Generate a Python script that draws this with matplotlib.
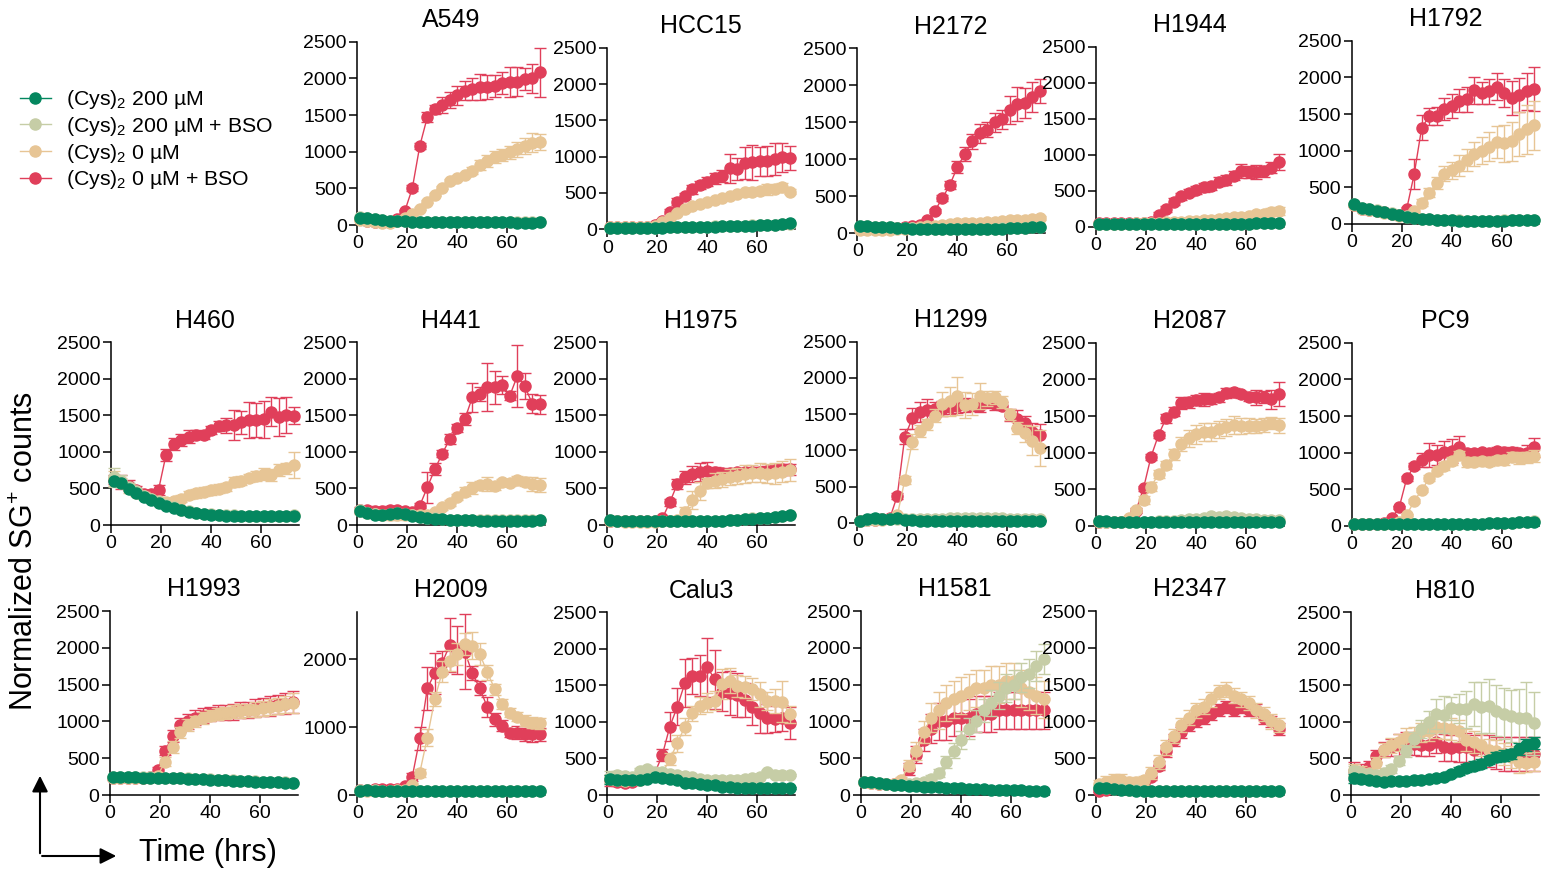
import matplotlib
matplotlib.use("Agg")
import matplotlib.pyplot as plt
from matplotlib.lines import Line2D
from matplotlib.patches import FancyArrowPatch

plt.rcParams['font.family'] = ['Liberation Sans', 'DejaVu Sans']
plt.rcParams['mathtext.fontset'] = 'custom'
plt.rcParams['mathtext.rm'] = 'Liberation Sans'
plt.rcParams['mathtext.it'] = 'Liberation Sans:italic'
plt.rcParams['mathtext.bf'] = 'Liberation Sans:bold'

# ---------------- data ----------------
TIME = [1, 4, 7, 10, 13, 16, 19, 22, 25, 28, 31, 34, 37, 40, 43, 46, 49, 52, 55, 58, 61, 64, 67, 70, 73]
LABELS = ['(Cys)$_{\\mathregular{2}}$ 200 µM', '(Cys)$_{\\mathregular{2}}$ 200 µM + BSO',
          '(Cys)$_{\\mathregular{2}}$ 0 µM', '(Cys)$_{\\mathregular{2}}$ 0 µM + BSO']
X_TICKS = [0, 20, 40, 60]

A549_green = [100,92,80,68,60,52,48,45,43,42,40,40,38,38,37,36,36,35,35,35,35,34,34,34,35]
A549_sage = [105,95,82,70,60,55,50,47,45,43,42,41,40,40,39,38,38,37,37,37,37,36,36,36,36]
A549_tan = [70,60,40,30,30,50,100,150,220,320,410,510,600,640,680,740,820,870,930,950,990,1030,1080,1120,1130]
A549_red = [80,60,45,40,40,80,190,500,1080,1470,1580,1640,1710,1770,1830,1850,1880,1880,1895,1930,1950,1955,1985,2000,2080]
A549_tan_err = [10,10,10,10,10,10,15,15,20,20,20,25,25,30,30,50,70,80,80,80,90,100,110,130,110]
A549_red_err = [10,10,10,10,10,15,20,40,40,70,60,110,110,130,130,150,180,160,150,150,200,200,150,200,330]

HCC15_green = [20,20,20,20,20,20,22,24,26,28,30,32,34,35,37,40,42,45,48,52,55,58,62,75,80]
HCC15_sage = [22,22,22,22,22,22,24,26,28,30,32,34,36,37,39,42,44,47,50,54,57,60,64,72,78]
HCC15_tan = [25,25,25,25,25,30,45,100,160,230,280,320,350,380,400,430,460,490,510,520,530,550,560,580,520]
HCC15_red = [25,25,25,25,25,30,60,120,245,380,460,550,610,655,700,735,840,825,910,920,935,940,965,990,980]
HCC15_tan_err = [5,5,5,5,5,5,10,15,20,20,20,20,20,20,20,20,25,25,30,40,50,80,50,60,30]
HCC15_red_err = [5,5,5,5,5,5,10,20,30,50,40,60,60,60,70,80,200,150,220,240,200,200,220,200,170]

H2172_green = [100,90,85,80,75,70,65,60,58,56,55,55,55,55,55,55,55,56,58,60,62,65,70,75,85]
H2172_sage = [100,92,86,80,76,72,68,64,60,58,57,57,57,57,57,57,57,58,60,62,64,67,72,77,86]
H2172_tan = [40,40,40,40,45,50,60,70,80,90,100,110,120,130,130,140,140,150,150,160,170,180,180,190,200]
H2172_red = [60,60,60,60,65,70,75,90,110,170,300,470,650,890,1070,1240,1350,1400,1500,1540,1660,1740,1760,1840,1920]
H2172_tan_err = [10,10,10,10,10,10,10,10,10,10,15,15,15,15,15,15,15,20,20,20,20,20,20,20,25]
H2172_red_err = [10,10,10,10,10,10,10,15,20,25,30,40,60,80,100,100,130,100,130,130,190,230,200,200,160]

H1944_green = [40,40,38,37,37,36,36,36,35,35,35,35,35,35,35,35,36,37,38,40,42,45,48,50,55]
H1944_sage = [42,42,40,39,39,38,38,38,37,37,37,37,37,37,37,37,38,39,40,42,44,47,50,52,57]
H1944_tan = [40,40,40,40,40,45,45,50,55,60,65,70,75,85,95,100,110,120,130,140,150,170,180,200,220]
H1944_red = [45,45,45,45,45,45,50,60,160,250,350,420,470,510,545,565,625,650,710,770,760,760,770,820,900]
H1944_tan_err = [5,5,5,5,5,5,5,10,10,10,10,15,15,20,20,25,30,30,35,40,40,50,50,55,60]
H1944_red_err = [5,5,5,5,5,5,10,15,40,40,50,50,50,60,60,60,60,70,60,100,90,100,80,80,110]

H1792_green = [270,215,200,180,165,140,120,100,80,72,64,56,50,48,46,45,45,45,45,45,46,48,50,52,55]
H1792_sage = [275,220,205,185,168,145,124,104,84,75,67,59,53,50,48,47,47,47,47,47,48,50,52,54,57]
H1792_tan = [260,210,190,175,155,135,115,100,180,290,427,563,686,732,795,873,955,1000,1055,1123,1100,1127,1223,1291,1345]
H1792_red = [260,210,190,175,160,140,120,205,680,1314,1468,1473,1573,1609,1682,1700,1823,1782,1809,1873,1782,1714,1764,1809,1845]
H1792_tan_err = [10,10,10,10,10,10,10,15,30,50,60,80,100,120,140,150,170,180,200,220,250,270,300,330,330]
H1792_red_err = [10,10,10,10,10,10,15,30,200,170,120,120,150,160,160,170,180,150,170,180,190,230,230,250,300]

H460_green = [600,570,490,435,380,340,300,260,228,200,182,160,146,137,132,128,124,120,118,117,117,118,120,122,128]
H460_sage = [650,600,520,460,400,360,320,280,240,210,190,170,155,145,140,135,130,127,125,124,124,125,126,128,132]
H460_tan = [640,580,500,440,400,360,330,320,333,360,410,433,456,474,497,520,593,607,643,670,698,680,753,775,821]
H460_red = [620,590,540,480,430,420,480,958,1104,1163,1209,1236,1232,1300,1355,1364,1369,1405,1437,1437,1446,1551,1483,1505,1496]
H460_sage_err = [130,80,60,50,40,30,30,20,20,20,20,15,15,15,15,15,15,15,15,15,15,15,15,15,15]
H460_tan_err = [100,60,60,50,50,40,40,40,40,50,60,60,60,60,60,60,70,60,60,70,80,80,80,80,180]
H460_red_err = [60,100,80,60,50,40,70,80,80,80,90,60,60,60,70,100,200,160,250,230,250,200,260,250,120]

H441_green = [196,160,140,137,150,158,145,128,110,96,87,78,70,66,63,62,60,60,60,60,60,60,60,60,62]
H441_sage = [200,165,145,140,155,160,148,130,112,98,89,80,72,68,65,64,62,62,62,62,62,62,62,62,64]
H441_tan = [190,170,150,140,130,130,130,130,130,140,182,242,306,388,456,502,547,561,534,584,579,616,593,561,547]
H441_red = [200,200,190,190,200,200,190,180,265,515,762,976,1177,1328,1446,1747,1793,1884,1884,1916,1770,2039,1902,1656,1651]
H441_tan_err = [40,40,40,60,60,60,40,30,20,20,20,30,40,40,60,80,60,100,50,50,40,50,60,90,100]
H441_red_err = [40,60,40,40,60,40,30,30,30,215,80,50,70,60,80,200,100,330,230,120,60,420,180,130,130]

H1975_green = [65,55,50,50,50,50,50,50,50,50,50,50,52,54,56,58,65,72,80,88,95,100,110,120,135]
H1975_sage = [68,58,52,52,52,52,52,52,52,52,52,52,54,56,58,60,67,74,82,90,97,102,112,122,137]
H1975_tan = [50,50,45,45,45,45,45,50,60,70,182,342,465,570,607,625,661,675,698,707,716,698,707,730,753]
H1975_red = [50,50,50,50,50,50,55,90,310,561,652,698,725,744,730,716,707,720,720,730,730,740,750,760,760]
H1975_tan_err = [10,10,10,10,10,10,10,10,10,15,70,120,120,70,100,100,110,110,120,120,130,130,140,140,150]
H1975_red_err = [10,10,10,10,10,10,10,20,50,70,90,110,120,120,60,60,60,60,60,60,70,70,70,80,80]

H1299_green = [30,45,65,50,55,60,40,35,30,30,30,30,30,30,30,30,30,30,30,30,30,30,30,30,30]
H1299_sage = [30,40,50,50,50,55,50,45,45,45,50,55,60,60,65,65,65,65,60,60,55,50,50,45,45]
H1299_tan = [30,35,40,40,45,100,590,1119,1266,1358,1478,1639,1680,1750,1625,1639,1754,1717,1735,1671,1496,1312,1234,1133,1027]
H1299_red = [30,35,40,45,60,373,1188,1441,1533,1556,1565,1575,1600,1611,1625,1625,1611,1671,1639,1611,1487,1432,1372,1257,1211]
H1299_green_err = [15,20,60,30,50,30,15,10,5,5,5,5,5,5,5,5,5,5,5,5,5,5,5,5,5]
H1299_tan_err = [10,10,10,10,15,30,60,100,80,80,90,170,200,260,180,150,180,100,90,80,80,80,120,200,250]
H1299_red_err = [10,10,10,10,15,40,100,150,140,150,100,100,100,100,100,80,80,80,80,60,80,120,100,120,150]

H2087_green = [70,65,60,60,60,60,60,60,60,60,60,60,60,60,60,60,60,60,60,60,60,60,60,60,60]
H2087_sage = [65,60,55,55,55,60,60,60,65,70,75,80,90,100,110,130,120,130,120,110,100,90,85,80,80]
H2087_tan = [50,50,50,50,110,218,355,536,709,832,977,1118,1195,1250,1286,1286,1318,1345,1377,1364,1368,1364,1377,1400,1373]
H2087_red = [50,50,50,50,100,209,514,945,1241,1468,1559,1673,1686,1718,1727,1732,1755,1809,1823,1795,1764,1755,1764,1727,1800]
H2087_tan_err = [10,10,10,10,15,30,50,60,60,60,80,100,120,130,120,120,120,120,120,110,100,90,90,80,100]
H2087_red_err = [10,10,10,10,15,30,30,40,40,60,60,80,80,70,90,70,60,70,60,50,60,100,80,130,160]

PC9_green = [25,25,25,25,25,25,30,30,30,30,30,30,30,30,30,30,30,32,35,38,40,45,50,55,60]
PC9_sage = [27,27,27,27,27,27,32,32,32,32,32,32,32,32,32,32,32,34,37,40,42,47,52,57,62]
PC9_tan = [30,30,30,30,30,30,60,150,341,491,650,750,818,886,968,868,877,886,877,900,900,945,923,936,955]
PC9_red = [30,30,30,30,40,105,255,650,818,900,968,968,1014,1023,1073,990,990,1014,1000,1023,1005,1014,990,1000,1073]
PC9_tan_err = [5,5,5,5,5,5,10,20,30,30,40,40,50,60,60,60,60,60,60,60,70,70,80,80,80]
PC9_red_err = [5,5,5,5,5,10,20,30,40,100,160,140,150,170,150,40,40,40,50,60,50,60,60,100,130]

H1993_green = [245,240,240,238,236,235,232,230,228,225,222,218,214,210,205,200,195,190,185,180,176,172,170,168,165]
H1993_sage = [250,245,245,243,240,238,236,234,232,229,226,222,218,214,209,204,199,194,189,184,180,176,174,172,169]
H1993_tan = [230,230,230,230,230,235,260,450,650,850,950,1000,1050,1080,1100,1110,1130,1140,1150,1160,1180,1200,1210,1230,1250]
H1993_red = [230,230,230,230,230,240,340,600,800,950,1000,1050,1080,1100,1120,1120,1130,1150,1160,1180,1200,1210,1230,1240,1260]
H1993_tan_err = [20,20,20,20,20,20,30,60,80,80,80,80,80,80,80,80,90,90,90,100,100,110,110,120,130]
H1993_red_err = [20,20,20,20,20,30,40,60,80,100,100,100,100,100,100,100,110,110,110,120,120,130,130,140,150]

H2009_green = [65,70,65,62,62,60,60,60,60,60,58,58,58,57,57,56,56,56,56,57,57,58,58,58,60]
H2009_sage = [68,72,67,64,64,62,62,62,62,62,60,60,60,59,59,58,58,58,58,59,59,60,60,60,62]
H2009_tan = [60,65,65,65,65,70,80,150,329,845,1415,1818,1980,2079,2226,2197,2074,1808,1558,1341,1214,1155,1096,1066,1056]
H2009_red = [70,80,85,85,85,90,133,270,835,1572,1794,1951,2211,2138,2113,1794,1572,1292,1115,1022,919,919,894,894,894]
H2009_tan_err = [10,10,10,10,10,10,15,30,60,120,100,160,150,160,160,200,160,110,80,80,70,70,80,80,80]
H2009_red_err = [10,10,10,10,10,15,30,60,170,320,300,170,400,350,550,100,100,150,100,80,60,100,100,120,100]

Calu3_green = [214,210,205,200,200,220,240,230,220,200,170,160,150,140,130,110,105,100,95,90,90,90,90,95,100]
Calu3_sage = [250,270,260,250,333,360,320,310,290,280,260,240,220,210,210,200,200,210,220,230,250,319,280,270,274]
Calu3_tan = [220,200,190,200,210,230,270,300,488,707,935,1118,1223,1264,1291,1519,1565,1492,1474,1446,1378,1287,1287,1278,1104]
Calu3_red = [200,180,170,180,220,250,300,547,935,1209,1528,1629,1633,1747,1583,1414,1400,1369,1300,1209,1127,1049,1036,1049,981]
Calu3_green_err = [60,50,40,40,40,40,40,40,30,30,30,20,20,20,20,20,20,15,15,15,15,15,15,15,15]
Calu3_sage_err = [80,60,40,40,40,40,40,30,30,30,20,20,20,20,20,20,20,20,20,20,20,20,20,20,20]
Calu3_tan_err = [60,60,40,40,40,40,50,60,80,120,120,100,120,130,130,200,170,150,150,150,170,120,170,280,120]
Calu3_red_err = [80,60,40,40,40,50,60,80,200,250,330,250,280,400,400,270,300,300,230,250,280,200,180,180,220]

H1581_green = [180,170,160,150,140,130,125,120,115,110,105,100,95,90,85,80,75,72,70,68,65,62,60,60,60]
H1581_sage = [180,170,160,150,140,140,150,160,180,220,300,450,600,750,900,1000,1150,1250,1350,1450,1500,1600,1650,1750,1850]
H1581_tan = [170,160,150,150,150,200,400,600,850,1050,1150,1250,1300,1350,1400,1450,1450,1500,1500,1550,1550,1450,1400,1350,1300]
H1581_red = [170,160,150,150,150,180,350,550,750,900,1000,1000,1050,1050,1050,1100,1100,1100,1150,1150,1150,1150,1150,1150,1150]
H1581_sage_err = [20,20,20,20,20,20,20,30,40,50,60,80,100,120,140,150,160,170,180,190,200,200,200,200,200]
H1581_tan_err = [20,20,20,20,20,40,80,120,150,200,250,250,250,250,250,250,250,250,250,250,250,250,250,250,250]
H1581_red_err = [20,20,20,20,20,40,80,120,150,200,250,250,250,250,250,250,250,250,250,250,250,250,250,250,250]

H2347_green = [100,90,80,70,65,60,55,55,50,50,50,50,50,50,50,50,50,50,50,50,50,50,50,50,50]
H2347_sage = [105,95,85,75,70,65,60,60,55,55,55,55,55,55,55,55,55,55,55,55,55,55,55,55,55]
H2347_tan = [150,180,200,200,180,170,200,300,450,650,800,950,1050,1150,1200,1300,1400,1430,1350,1300,1250,1150,1100,1000,950]
H2347_red = [60,70,80,90,100,110,150,250,400,600,750,850,950,1000,1050,1100,1150,1200,1150,1200,1150,1150,1050,1000,900]
H2347_tan_err = [60,80,80,80,60,60,60,80,100,100,100,100,100,100,100,100,100,100,100,100,100,100,100,100,100]
H2347_red_err = [20,20,30,30,30,30,40,50,60,80,80,80,80,80,80,80,80,80,80,80,80,80,80,80,80]

H810_green = [228,220,200,190,180,185,190,195,200,205,215,230,250,290,330,370,400,430,480,520,540,560,630,680,710]
H810_sage = [330,300,290,280,300,356,470,602,762,903,1004,1109,1100,1186,1180,1170,1241,1200,1218,1154,1110,1080,1049,1050,981]
H810_tan = [340,320,300,443,616,680,720,789,800,860,880,935,920,900,880,753,720,680,616,600,560,520,447,440,456]
H810_red = [330,320,388,534,620,650,680,707,700,680,680,730,650,640,650,650,620,640,600,580,560,560,560,560,560]
H810_green_err = [60,50,40,30,30,30,30,30,30,30,30,30,40,40,50,50,60,60,60,70,70,70,80,80,80]
H810_sage_err = [60,50,40,40,40,50,60,80,100,120,150,200,250,160,200,250,300,350,370,350,350,350,400,500,430]
H810_tan_err = [80,80,60,80,100,100,120,130,130,130,140,150,150,150,150,150,150,150,150,150,150,150,150,130,130]
H810_red_err = [120,100,80,80,100,120,150,150,150,150,150,150,180,180,200,200,200,200,220,220,230,230,230,230,230]

# ---------------- styling ----------------
GREEN = '#04875f'
SAGE = '#c6cda6'
TAN = '#e7c595'
RED = '#e03f5a'
COLORS = [GREEN, SAGE, TAN, RED]

W, H = 1556, 873
fig = plt.figure(figsize=(W / 100, H / 100), dpi=100)

# (title, left px, y of zero px, y of top px, ymax, yticks, series, errors)
Y5 = [0, 500, 1000, 1500, 2000, 2500]
PANELS = [
    ('A549', 357.3, 225.0, 41.7, 2500, Y5,
     [A549_green, A549_sage, A549_tan, A549_red], [None, None, A549_tan_err, A549_red_err]),
    ('HCC15', 607.3, 229.3, 47.7, 2500, Y5,
     [HCC15_green, HCC15_sage, HCC15_tan, HCC15_red], [None, None, HCC15_tan_err, HCC15_red_err]),
    ('H2172', 857.3, 233.0, 48.3, 2500, Y5,
     [H2172_green, H2172_sage, H2172_tan, H2172_red], [None, None, H2172_tan_err, H2172_red_err]),
    ('H1944', 1096.0, 226.7, 46.7, 2500, Y5,
     [H1944_green, H1944_sage, H1944_tan, H1944_red], [None, None, H1944_tan_err, H1944_red_err]),
    ('H1792', 1351.7, 224.0, 40.7, 2500, Y5,
     [H1792_green, H1792_sage, H1792_tan, H1792_red], [None, None, H1792_tan_err, H1792_red_err]),
    ('H460', 111.0, 525.0, 342.3, 2500, Y5,
     [H460_green, H460_sage, H460_tan, H460_red], [None, H460_sage_err, H460_tan_err, H460_red_err]),
    ('H441', 357.3, 525.0, 342.3, 2500, Y5,
     [H441_green, H441_sage, H441_tan, H441_red], [None, None, H441_tan_err, H441_red_err]),
    ('H1975', 607.3, 525.0, 342.3, 2500, Y5,
     [H1975_green, H1975_sage, H1975_tan, H1975_red], [None, None, H1975_tan_err, H1975_red_err]),
    ('H1299', 857.3, 522.7, 341.7, 2500, Y5,
     [H1299_green, H1299_sage, H1299_tan, H1299_red], [H1299_green_err, None, H1299_tan_err, H1299_red_err]),
    ('H2087', 1096.0, 526.0, 342.7, 2500, Y5,
     [H2087_green, H2087_sage, H2087_tan, H2087_red], [None, None, H2087_tan_err, H2087_red_err]),
    ('PC9', 1351.7, 526.0, 342.7, 2500, Y5,
     [PC9_green, PC9_sage, PC9_tan, PC9_red], [None, None, PC9_tan_err, PC9_red_err]),
    ('H1993', 110.0, 795.0, 611.0, 2500, Y5,
     [H1993_green, H1993_sage, H1993_tan, H1993_red], [None, None, H1993_tan_err, H1993_red_err]),
    ('H2009', 357.3, 795.0, 611.7, 2700, [0, 1000, 2000],
     [H2009_green, H2009_sage, H2009_tan, H2009_red], [None, None, H2009_tan_err, H2009_red_err]),
    ('Calu3', 607.3, 795.0, 612.3, 2500, Y5,
     [Calu3_green, Calu3_sage, Calu3_tan, Calu3_red], [Calu3_green_err, Calu3_sage_err, Calu3_tan_err, Calu3_red_err]),
    ('H1581', 861.0, 795.0, 611.0, 2500, Y5,
     [H1581_green, H1581_sage, H1581_tan, H1581_red], [None, H1581_sage_err, H1581_tan_err, H1581_red_err]),
    ('H2347', 1096.0, 795.0, 611.0, 2500, Y5,
     [H2347_green, H2347_sage, H2347_tan, H2347_red], [None, None, H2347_tan_err, H2347_red_err]),
    ('H810', 1351.0, 795.0, 612.3, 2500, Y5,
     [H810_green, H810_sage, H810_tan, H810_red], [H810_green_err, H810_sage_err, H810_tan_err, H810_red_err]),
]

AX_W_PX = 187.5  # 0..75 h
LW = 1.1

for title, left, y0, ytop, ymax, yticks, series, errs in PANELS:
    ax = fig.add_axes([left / W, (H - y0) / H, AX_W_PX / W, (y0 - ytop) / H])
    # draw red first (back) ... green last (front)
    for idx in [3, 2, 1, 0]:
        c = COLORS[idx]
        z = 10 - idx * 2
        if errs[idx] is not None:
            eb = ax.errorbar(TIME, series[idx], yerr=errs[idx], fmt='none', ecolor=c,
                             elinewidth=1.0, capsize=4.5, capthick=1.0, zorder=z - 1)
            for a in list(eb.lines[1]) + list(eb.lines[2]):
                a.set_clip_on(False)
        ax.plot(TIME, series[idx], '-', color=c, lw=1.0, marker='o', ms=8,
                mec=c, mfc=c, zorder=z, clip_on=False)
    ax.set_xlim(0, 75)
    ax.set_ylim(0, ymax)
    ax.set_xticks(X_TICKS)
    ax.set_yticks(yticks)
    for s in ['top', 'right']:
        ax.spines[s].set_visible(False)
    for s in ['left', 'bottom']:
        ax.spines[s].set_linewidth(LW)
        ax.spines[s].set_zorder(1)
    ax.tick_params(direction='out', length=5.5, width=LW, labelsize=14, pad=2)
    ax.set_title(title, fontsize=18, pad=10.5)
    ax.patch.set_visible(False)

# legend
handles = [Line2D([], [], color=c, lw=1.0, marker='o', ms=8, mec=c, mfc=c) for c in COLORS]
fig.legend(handles, LABELS, loc='upper left', bbox_to_anchor=(20 / W, 1 - 88 / H),
           frameon=False, fontsize=15.3, handlelength=1.45, handletextpad=0.7,
           labelspacing=0.18, borderpad=0, borderaxespad=0)

# axis labels
fig.text(25 / W, 1 - 551 / H, 'Normalized SG$^{\\mathregular{+}}$ counts', rotation=90,
         ha='center', va='center', fontsize=22)
fig.text(139 / W, 1 - 853 / H, 'Time (hrs)', ha='left', va='center', fontsize=22)

# arrows
fig.add_artist(FancyArrowPatch((40 / W, 1 - 856 / H), (40 / W, 1 - 773 / H),
                               transform=fig.transFigure, arrowstyle='-|>',
                               mutation_scale=24, lw=1.5, color='black'))
fig.add_artist(FancyArrowPatch((39.3 / W, 1 - 856 / H), (119 / W, 1 - 856 / H),
                               transform=fig.transFigure, arrowstyle='-|>',
                               mutation_scale=24, lw=1.5, color='black'))

fig.savefig('out.png', dpi=100)
